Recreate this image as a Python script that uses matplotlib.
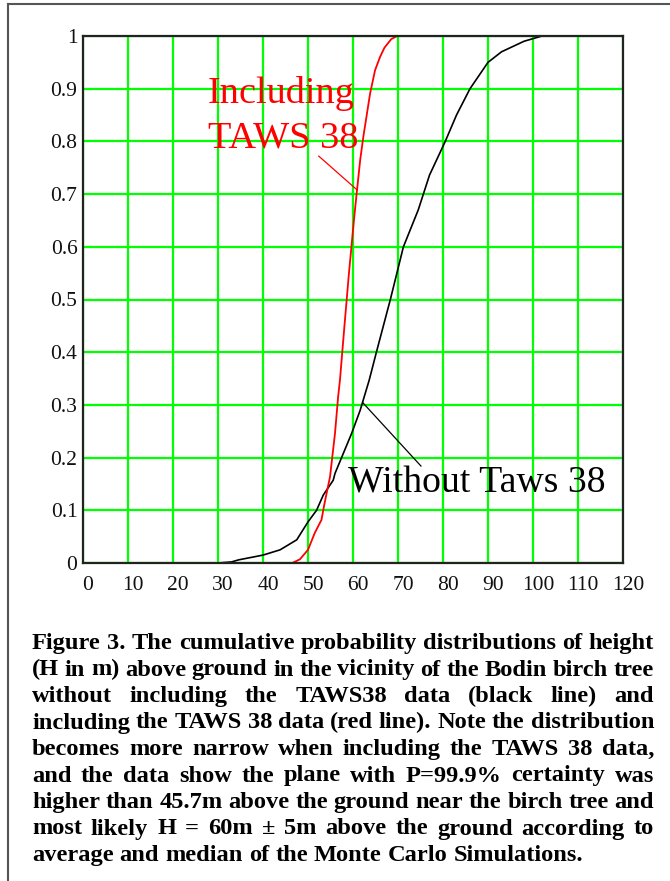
import matplotlib
matplotlib.use("Agg")
import matplotlib.pyplot as plt
from matplotlib.lines import Line2D
from matplotlib.transforms import ScaledTranslation

# cumulative probability vs height above ground (m)
h_without = [30, 33, 34.6, 40, 43.8, 47.5, 50, 51.9, 53.4, 55.6, 56, 59.7, 61.6, 63.6,
             65.2, 68.3, 71.2, 74.5, 77, 80.5, 83, 86, 90, 93, 95.5, 98, 102, 107]
p_without = [0, 0.002, 0.006, 0.015, 0.025, 0.044, 0.078, 0.1, 0.129, 0.157, 0.170, 0.246, 0.290, 0.347,
             0.4, 0.5, 0.6, 0.67, 0.736, 0.8, 0.85, 0.9, 0.95, 0.97, 0.98, 0.99, 1, 1]

h_with = [40, 46.5, 48.2, 50, 51.5, 53.0, 53.6, 54.9, 56, 56.7, 57.1, 58.1, 59.1, 60.2,
          60.8, 61.6, 62.3, 63.8, 64.9, 66, 67, 68.5, 69.8, 76]
p_with = [0, 0, 0.007, 0.025, 0.057, 0.082, 0.11, 0.164, 0.246, 0.316, 0.347, 0.45, 0.55, 0.65,
          0.70, 0.765, 0.809, 0.891, 0.935, 0.96, 0.978, 0.994, 1, 1]

x_ticks = list(range(0, 121, 10))
y_ticks = [0, 0.1, 0.2, 0.3, 0.4, 0.5, 0.6, 0.7, 0.8, 0.9, 1]
y_tick_labels = ["0", "0.1", "0.2", "0.3", "0.4", "0.5", "0.6", "0.7", "0.8", "0.9", "1"]

caption_lines = [
    "Figure 3. The cumulative probability distributions of height",
    "(H in m) above ground in the vicinity of the Bodin birch tree",
    "without including the TAWS38 data (black line) and",
    "including the TAWS 38 data (red line). Note the distribution",
    "becomes more narrow when including the TAWS 38 data,",
    "and the data show the plane with P=99.9% certainty was",
    "higher than 45.7m above the ground near the birch tree and",
    "most likely H = 60m \u00b1 5m above the ground according to",
    "average and median of the Monte Carlo Simulations.",
]

W, H = 670, 881
serif = "Liberation Serif"

fig = plt.figure(figsize=(W / 100, H / 100), dpi=100)
ax = fig.add_axes([83 / W, 1 - 563 / H, 540 / W, 527 / H])

ax.plot(h_without, p_without, color="black", lw=1.2, zorder=3, clip_on=False)
ax.plot(h_with, p_with, color="#ff0000", lw=1.3, zorder=3, clip_on=False)

# pointer lines for the labels
ax.plot([52.4, 60.9], [0.772, 0.708], color="#ff0000", lw=0.9, zorder=3)
ax.plot([62.2, 75.1], [0.304, 0.184], color="black", lw=0.9, zorder=3)

ax.text(27.6, 0.873, "Including", color="#ff0000", fontsize=27.5, family=serif, va="baseline")
ax.text(27.8, 0.789, "TAWS 38", color="#ff0000", fontsize=27.5, family=serif, va="baseline")
ax.text(58.9, 0.133, "Without Taws 38", color="black", fontsize=27.2, family=serif, va="baseline")

ax.set_xlim(0, 120)
ax.set_ylim(0, 1)
ax.set_xticks(x_ticks)
ax.set_yticks(y_ticks)
ax.set_yticklabels(y_tick_labels)
ax.grid(True, color="#00ff00", lw=1.6, zorder=1)
ax.set_axisbelow(True)
ax.tick_params(length=0, labelsize=15.5, colors="#111111")
ax.tick_params(axis="x", pad=9)
ax.tick_params(axis="y", pad=4)
for lbl in ax.get_xticklabels() + ax.get_yticklabels():
    lbl.set_family(serif)
for lbl in ax.get_xticklabels():
    lbl.set_transform(lbl.get_transform() + ScaledTranslation(5 / 100, 0, fig.dpi_scale_trans))
for sp in ax.spines.values():
    sp.set_color("#222222")
    sp.set_linewidth(1.6)
    sp.set_zorder(4)

# outer frame (left and top edges visible)
fig.add_artist(Line2D([8 / W, 8 / W], [0, 1 - 4 / H], transform=fig.transFigure,
                      color="#555555", lw=1.5))
fig.add_artist(Line2D([8 / W, 1], [1 - 4 / H, 1 - 4 / H], transform=fig.transFigure,
                      color="#555555", lw=1.5))

# justified bold caption
renderer = fig.canvas.get_renderer()


def text_width(s, size):
    t = fig.text(0, 0, s, fontsize=size, fontweight="bold", family=serif)
    w = t.get_window_extent(renderer).width
    t.remove()
    return w


cap_left, cap_right = 32, 654
cap_width = cap_right - cap_left
cap_size = 10 * cap_width / text_width(caption_lines[0], 10)
space_w = text_width("a a", cap_size) - text_width("aa", cap_size)

for i, line in enumerate(caption_lines):
    words = line.split()
    widths = [text_width(w, cap_size) for w in words]
    if i == len(caption_lines) - 1 or len(words) == 1:
        gap = space_w
    else:
        gap = (cap_width - sum(widths)) / (len(words) - 1)
    y = 1 - (649 + 26.5 * i) / H
    x = cap_left
    for w, wd in zip(words, widths):
        fig.text(x / W, y, w, fontsize=cap_size, fontweight="bold", family=serif,
                 va="baseline", ha="left")
        x += wd + gap

fig.savefig("out.png", dpi=100)
